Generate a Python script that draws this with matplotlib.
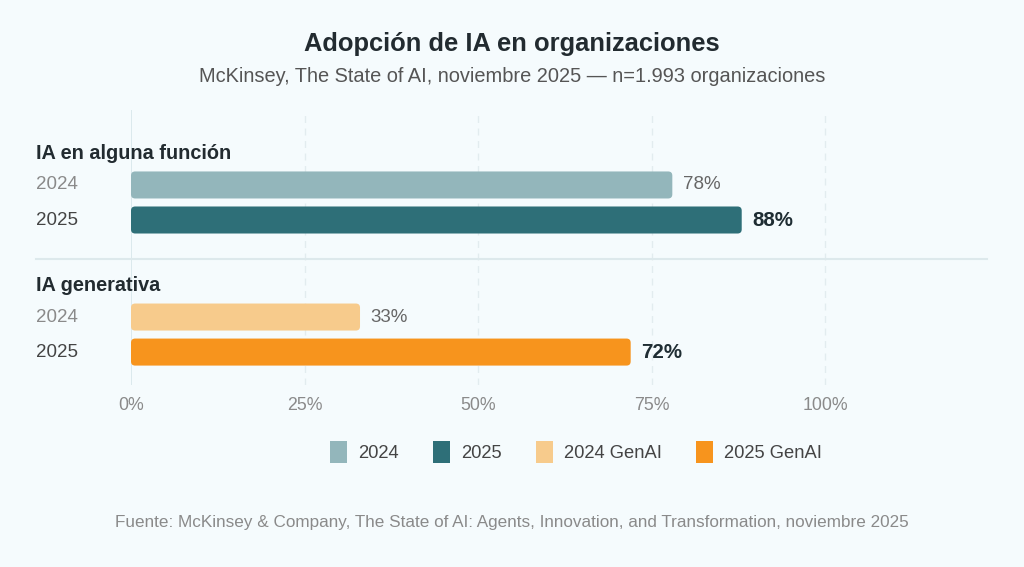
import matplotlib
matplotlib.use("Agg")
import matplotlib.pyplot as plt
import matplotlib.transforms as mtransforms
from matplotlib.patches import FancyBboxPatch, Patch

plt.rcParams["font.family"] = ["Liberation Sans", "DejaVu Sans"]

# datos
groups = ["IA en alguna función", "IA generativa"]
years = ["2024", "2025"]
values = [[78, 88], [33, 72]]
colors = [["#93b6bb", "#2e6f78"], ["#f7cb8c", "#f7941d"]]
legend_labels = ["2024", "2025", "2024 GenAI", "2025 GenAI"]
xticks = [0, 25, 50, 75, 100]

bg = "#f5fbfd"
fig = plt.figure(figsize=(10.24, 5.67), dpi=100, facecolor=bg)
ax = fig.add_axes([131 / 1024, 1 - 385 / 567, 856 / 1024, 275 / 567])
ax.set_facecolor(bg)

xmax = 856 / 6.94
ax.set_xlim(0, xmax)
ax.set_ylim(5.71, -2.14)

# posiciones de filas
group_y = [0, 3.77]
bar_h = 27 / 35
aspect = 6.94 / 35

for x in xticks[1:]:
    ax.axvline(x, color="#e2ecef", lw=1, ls=(0, (5, 4)), zorder=0)
ax.axvline(0, color="#d6e6ea", lw=1.2, zorder=0)

blend = mtransforms.blended_transform_factory(fig.transFigure, ax.transData)

for gi, g in enumerate(groups):
    y0 = group_y[gi]
    ax.text(36 / 1024, y0 - 0.9, g, transform=blend, ha="left", va="center",
            fontsize=14.3, fontweight="bold", color="#222b30")
    for yi, yr in enumerate(years):
        y = y0 + yi
        v = values[gi][yi]
        bar = FancyBboxPatch((0, y - bar_h / 2), v, bar_h,
                             boxstyle="round,pad=0,rounding_size=0.6",
                             mutation_aspect=aspect, fc=colors[gi][yi],
                             ec="none", zorder=2)
        ax.add_patch(bar)
        ax.text(36 / 1024, y, yr, transform=blend, ha="left", va="center",
                fontsize=13.5, color="#8a8a8a" if yi == 0 else "#444444")
        if yi == 0:
            ax.text(v + 1.5, y, f"{v}%", ha="left", va="center",
                    fontsize=13.5, color="#666666")
        else:
            ax.text(v + 1.5, y, f"{v}%", ha="left", va="center",
                    fontsize=14.8, fontweight="bold", color="#1f2d33")

# separador entre grupos
sep_y = 1 + (259 - 220) / 35
ax.plot([36 / 1024, 987 / 1024], [sep_y, sep_y], transform=blend,
        color="#dde9ec", lw=1.5, clip_on=False, zorder=1)

ax.set_xticks(xticks)
ax.set_xticklabels([f"{x}%" for x in xticks])
ax.tick_params(axis="x", length=0, pad=9, labelsize=12.8, colors="#8a8a8a")
ax.set_yticks([])
for s in ax.spines.values():
    s.set_visible(False)

handles = [Patch(fc=c, ec="none") for c in colors[0] + colors[1]]
fig.legend(handles, legend_labels, loc="center", ncol=4,
           bbox_to_anchor=(576 / 1024, 1 - 452 / 567), frameon=False,
           fontsize=13.2, labelcolor="#444444", handlelength=0.93, handleheight=1.45,
           columnspacing=1.86, handletextpad=0.6)

fig.text(0.5, 1 - 44 / 567, "Adopción de IA en organizaciones", ha="center",
         va="center", fontsize=18.4, fontweight="bold", color="#222b30")
fig.text(0.5, 1 - 76 / 567,
         "McKinsey, The State of AI, noviembre 2025 — n=1.993 organizaciones",
         ha="center", va="center", fontsize=14.4, color="#555555")
fig.text(0.5, 1 - 523 / 567,
         "Fuente: McKinsey & Company, The State of AI: Agents, Innovation, and Transformation, noviembre 2025",
         ha="center", va="center", fontsize=12.3, color="#8a8a8a")

fig.savefig("out.png", dpi=100, facecolor=bg)
